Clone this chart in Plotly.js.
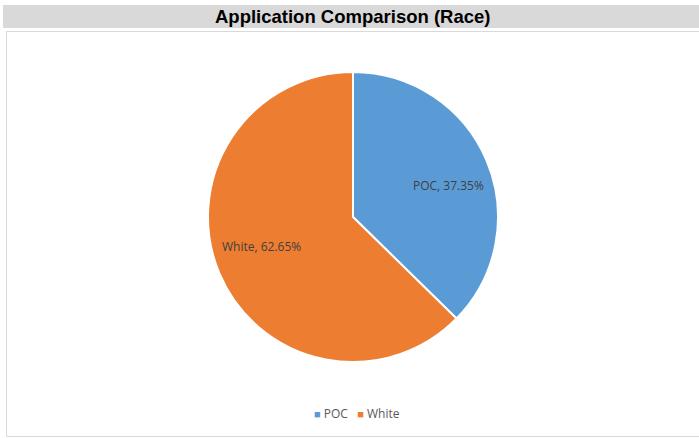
<!DOCTYPE html>
<html>
<head>
<meta charset="utf-8">
<script src="https://cdn.plot.ly/plotly-3.0.1.min.js"></script>
<style>
  html, body { margin: 0; padding: 0; background: #ffffff; }
  #chart { width: 699px; height: 438px; }
</style>
</head>
<body>
<div id="chart"></div>
<script>
// Share of applications by race (percent)
const categories = ["POC", "White"];
const shares = [37.35, 62.65];
const sliceColors = ["#5B9BD5", "#ED7D31"];

const W = 699, H = 438;
const px = v => v / W;            // horizontal pixel -> paper
const py = v => 1 - v / H;        // vertical pixel -> paper

// Label anchor points for each slice (paper coords)
const labelPos = [
  { x: px(449), y: py(185) },
  { x: px(261), y: py(246) }
];

const trace = {
  type: "pie",
  labels: categories,
  values: shares,
  sort: false,
  direction: "clockwise",
  rotation: 0,
  marker: { colors: sliceColors, line: { color: "#ffffff", width: 2 } },
  textinfo: "none",
  hoverinfo: "label+percent",
  showlegend: false,
  domain: { x: [px(208), px(498)], y: [py(362), py(72)] }
};

const labelFont = { family: "Open Sans, Liberation Sans, sans-serif", size: 12, color: "#404040" };

const annotations = categories.map((c, i) => ({
  xref: "paper", yref: "paper",
  x: labelPos[i].x, y: labelPos[i].y,
  xanchor: "center", yanchor: "middle",
  text: c + ", " + shares[i].toFixed(2) + "%",
  showarrow: false,
  font: labelFont
}));

// Compact legend: small coloured squares followed by the category names
const legendText = categories
  .map((c, i) => "<span style='color:" + sliceColors[i] + ";font-size:11px'>■</span> " + c)
  .join("   ");
annotations.push({
  xref: "paper", yref: "paper",
  x: px(357), y: py(413),
  xanchor: "center", yanchor: "middle",
  text: legendText,
  showarrow: false,
  font: { family: "Open Sans, Liberation Sans, sans-serif", size: 12, color: "#595959" }
});

annotations.push({
  xref: "paper", yref: "paper",
  x: px(353), y: py(17),
  xanchor: "center", yanchor: "middle",
  text: "Application Comparison (Race)",
  showarrow: false,
  font: { family: "Liberation Sans, Arial, sans-serif", size: 18.5, color: "#000000", weight: "bold" }
});

const layout = {
  width: W, height: H,
  margin: { l: 0, r: 0, t: 0, b: 0 },
  paper_bgcolor: "#ffffff",
  showlegend: false,
  shapes: [
    // grey title band
    { type: "rect", xref: "paper", yref: "paper", layer: "below",
      x0: px(3), x1: 1, y0: py(28), y1: py(5),
      fillcolor: "#d9d9d9", line: { width: 0 } },
    // chart area frame
    { type: "rect", xref: "paper", yref: "paper", layer: "below",
      x0: px(6.5), x1: px(702), y0: py(436.5), y1: py(31.5),
      fillcolor: "rgba(0,0,0,0)", line: { color: "#d9d9d9", width: 1 } }
  ],
  annotations: annotations
};

Plotly.newPlot("chart", [trace], layout, { displayModeBar: false, staticPlot: true });
</script>
</body>
</html>
